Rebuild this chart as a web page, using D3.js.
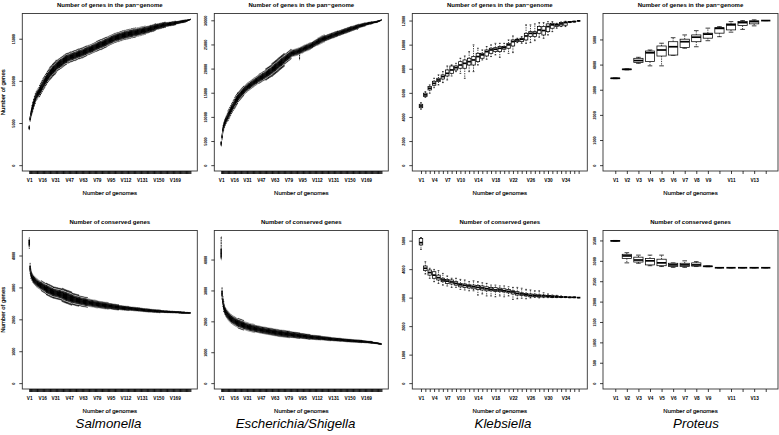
<!DOCTYPE html>
<html><head><meta charset="utf-8">
<script src="https://cdn.jsdelivr.net/npm/d3@7"></script>
<style>body{margin:0;background:#fff}svg{display:block}text{font-family:"Liberation Sans",Arial,Helvetica,sans-serif;fill:#000}</style>
</head><body>
<script>
// ---- DATA: five-number summaries [lower whisker, Q1, median, Q3, upper whisker] per number of genomes ----
const salPan=[[4200,4350,4450,4550,4700],[5200,5400,5500,5600,5800],[5600,5900,6050,6200,6500],[5950,6300,6500,6700,7050],[6300,6700,6900,7100,7500],[6650,7050,7250,7450,7850],[7000,7400,7600,7800,8200],[7300,7700,7900,8100,8500],[7650,8000,8200,8400,8750],[7800,8150,8350,8550,8900],
[7950,8300,8500,8700,9050],[8100,8450,8650,8850,9200],[8100,8550,8800,9050,9500],[8300,8750,9000,9250,9700],[8500,8950,9200,9450,9900],[8700,9150,9400,9650,10100],[8900,9350,9600,9850,10300],[9050,9500,9750,10000,10450],[9200,9650,9900,10150,10600],[9400,9850,10100,10350,10800],
[9550,10000,10250,10500,10950],[9750,10200,10450,10700,11150],[9900,10350,10600,10850,11300],[10050,10500,10750,11000,11450],[10150,10650,10900,11150,11650],[10250,10750,11000,11250,11750],[10350,10850,11100,11350,11850],[10500,11000,11250,11500,12000],[10600,11100,11350,11600,12100],[10700,11200,11450,11700,12200],
[10800,11300,11550,11800,12300],[10950,11450,11700,11950,12450],[11150,11550,11800,12050,12450],[11200,11600,11850,12100,12500],[11300,11700,11950,12200,12600],[11350,11750,12000,12250,12650],[11450,11850,12100,12350,12750],[11500,11900,12150,12400,12800],[11600,12000,12250,12500,12900],[11650,12050,12300,12550,12950],
[11750,12150,12400,12650,13050],[11800,12200,12450,12700,13100],[11900,12300,12550,12800,13200],[11950,12350,12600,12850,13250],[12100,12500,12700,12900,13300],[12100,12500,12700,12900,13300],[12150,12550,12750,12950,13350],[12200,12600,12800,13000,13400],[12250,12650,12850,13050,13450],[12250,12650,12850,13050,13450],
[12300,12700,12900,13100,13500],[12350,12750,12950,13150,13550],[12400,12800,13000,13200,13600],[12400,12800,13000,13200,13600],[12450,12850,13050,13250,13650],[12500,12900,13100,13300,13700],[12550,12950,13150,13350,13750],[12600,13000,13200,13400,13800],[12600,13000,13200,13400,13800],[12650,13050,13250,13450,13850],
[12700,13100,13300,13500,13900],[12700,13100,13300,13500,13900],[12750,13150,13350,13550,13950],[12800,13200,13400,13600,14000],[12850,13250,13450,13650,14050],[12900,13300,13500,13700,14100],[12950,13350,13550,13750,14150],[13050,13400,13600,13800,14150],[13100,13450,13650,13850,14200],[13150,13500,13700,13900,14250],
[13150,13500,13700,13900,14250],[13200,13550,13750,13950,14300],[13250,13600,13800,14000,14350],[13300,13650,13850,14050,14400],[13350,13700,13900,14100,14450],[13400,13750,13950,14150,14500],[13450,13800,14000,14200,14550],[13500,13850,14050,14250,14600],[13500,13900,14100,14300,14700],[13550,13950,14150,14350,14750],
[13600,14000,14200,14400,14800],[13650,14050,14250,14450,14850],[13700,14100,14300,14500,14900],[13700,14100,14300,14500,14900],[13750,14150,14350,14550,14950],[13800,14200,14400,14600,15000],[13850,14250,14450,14650,15050],[13900,14300,14500,14700,15100],[13950,14350,14550,14750,15150],[14000,14400,14600,14800,15200],
[14100,14450,14650,14850,15200],[14150,14500,14700,14900,15250],[14200,14550,14750,14950,15300],[14250,14600,14800,15000,15350],[14300,14650,14850,15050,15400],[14350,14700,14900,15100,15450],[14400,14750,14950,15150,15500],[14450,14800,15000,15200,15550],[14500,14850,15050,15250,15600],[14550,14900,15100,15300,15650],
[14550,14900,15100,15300,15650],[14600,14950,15150,15350,15700],[14650,15000,15200,15400,15750],[14650,15000,15200,15400,15750],[14700,15050,15250,15450,15800],[14750,15100,15300,15500,15850],[14750,15100,15300,15500,15850],[14800,15150,15350,15550,15900],[14850,15200,15400,15600,15950],[14850,15200,15400,15600,15950],
[14900,15250,15450,15650,16000],[14900,15250,15450,15650,16000],[14950,15300,15500,15700,16050],[14950,15300,15500,15700,16050],[15000,15350,15550,15750,16100],[15000,15350,15550,15750,16100],[15050,15400,15600,15800,16150],[15050,15400,15600,15800,16150],[15100,15450,15650,15850,16200],[15100,15450,15650,15850,16200],
[15150,15500,15700,15900,16250],[15150,15500,15700,15900,16250],[15150,15500,15700,15900,16250],[15200,15550,15750,15950,16300],[15250,15570,15750,15930,16250],[15300,15620,15800,15980,16300],[15300,15620,15800,15980,16300],[15350,15670,15850,16030,16350],[15350,15670,15850,16030,16350],[15400,15720,15900,16080,16400],
[15400,15720,15900,16080,16400],[15450,15770,15950,16130,16450],[15450,15770,15950,16130,16450],[15500,15820,16000,16180,16500],[15500,15820,16000,16180,16500],[15650,15900,16050,16200,16450],[15650,15900,16050,16200,16450],[15700,15950,16100,16250,16500],[15700,15950,16100,16250,16500],[15750,16000,16150,16300,16550],
[15800,16050,16200,16350,16600],[15800,16050,16200,16350,16600],[15850,16100,16250,16400,16650],[15850,16100,16250,16400,16650],[15900,16150,16300,16450,16700],[15950,16200,16350,16500,16750],[16000,16250,16400,16550,16800],[16100,16300,16420,16540,16740],[16130,16330,16450,16570,16770],[16130,16330,16450,16570,16770],
[16180,16380,16500,16620,16820],[16180,16380,16500,16620,16820],[16230,16430,16550,16670,16870],[16230,16430,16550,16670,16870],[16280,16480,16600,16720,16920],[16280,16480,16600,16720,16920],[16330,16530,16650,16770,16970],[16330,16530,16650,16770,16970],[16450,16590,16680,16770,16910],[16470,16610,16700,16790,16930],
[16470,16610,16700,16790,16930],[16490,16630,16720,16810,16950],[16520,16660,16750,16840,16980],[16520,16660,16750,16840,16980],[16540,16680,16770,16860,17000],[16570,16710,16800,16890,17030],[16570,16710,16800,16890,17030],[16590,16730,16820,16910,17050],[16620,16760,16850,16940,17080],[16640,16780,16870,16960,17100],
[16750,16840,16900,16960,17050],[16770,16860,16920,16980,17070],[16790,16880,16940,17000,17090],[16810,16900,16960,17020,17110],[16830,16920,16980,17040,17130],[16850,16940,17000,17060,17150],[16870,16960,17020,17080,17170],[16890,16980,17040,17100,17190],[16910,17000,17060,17120,17210],[16930,17020,17080,17140,17230],
[16950,17040,17100,17160,17250],[17010,17080,17120,17160,17230],[17060,17115,17150,17185,17240],[17110,17155,17180,17205,17250],[17160,17190,17210,17230,17260],[17220,17240,17250,17260,17280],[17300,17300,17300,17300,17300]];

const ecoPan=[[3950,4300,4500,4700,5000],[5200,5700,5900,6100,6600],[6450,7050,7300,7550,8150],[7200,7800,8050,8300,8900],[7800,8400,8650,8900,9500],[8250,8850,9100,9350,9950],[8650,9250,9500,9750,10350],[9000,9600,9850,10100,10700],[9200,9950,10250,10550,11300],[9550,10300,10600,10900,11650],
[9900,10650,10950,11250,12000],[10250,11000,11300,11600,12350],[10650,11400,11700,12000,12750],[10950,11700,12000,12300,13050],[11300,12050,12350,12650,13400],[11600,12350,12650,12950,13700],[11800,12600,12950,13300,14100],[12100,12900,13250,13600,14400],[12400,13200,13550,13900,14700],[12700,13500,13850,14200,15000],
[13150,13850,14150,14450,15150],[13350,14050,14350,14650,15350],[13550,14250,14550,14850,15550],[13750,14450,14750,15050,15750],[13950,14650,14950,15250,15950],[14150,14850,15150,15450,16150],[14350,15050,15350,15650,16350],[14700,15300,15550,15800,16400],[14900,15500,15750,16000,16600],[15050,15650,15900,16150,16750],
[15200,15800,16050,16300,16900],[15350,15950,16200,16450,17050],[15500,16100,16350,16600,17200],[15600,16200,16450,16700,17300],[15750,16350,16600,16850,17450],[15900,16500,16750,17000,17600],[16050,16650,16900,17150,17750],[16150,16750,17000,17250,17850],[16300,16900,17150,17400,18000],[16400,17000,17250,17500,18100],
[16550,17150,17400,17650,18250],[16650,17250,17500,17750,18350],[16800,17400,17650,17900,18500],[16950,17550,17800,18050,18650],[16950,17600,17900,18200,18850],[17050,17700,18000,18300,18950],[17150,17800,18100,18400,19050],[17250,17900,18200,18500,19150],[17400,18050,18350,18650,19300],[17500,18150,18450,18750,19400],
[17600,18250,18550,18850,19500],[17700,18350,18650,18950,19600],[17600,18450,18800,19150,20000],[17700,18550,18900,19250,20100],[17850,18700,19050,19400,20250],[17950,18800,19150,19500,20350],[18100,18950,19300,19650,20500],[18200,19050,19400,19750,20600],[18350,19200,19550,19900,20750],[18350,19300,19700,20100,21050],
[18500,19450,19850,20250,21200],[18650,19600,20000,20400,21350],[18800,19750,20150,20550,21500],[18950,19900,20300,20700,21650],[19100,20050,20450,20850,21800],[19250,20200,20600,21000,21950],[19400,20350,20750,21150,22100],[19550,20500,20900,21300,22250],[19700,20650,21050,21450,22400],[19850,20800,21200,21600,22550],
[20000,20950,21350,21750,22700],[20150,21100,21500,21900,22850],[20300,21250,21650,22050,23000],[20450,21400,21800,22200,23150],[20950,21650,21950,22250,22950],[21100,21800,22100,22400,23100],[21250,21950,22250,22550,23250],[21400,22100,22400,22700,23400],[21550,22250,22550,22850,23550],[21700,22400,22700,23000,23700],
[21850,22550,22850,23150,23850],[22000,22700,23000,23300,24000],[22450,22950,23150,23350,23850],[22500,23000,23200,23400,23900],[22550,23050,23250,23450,23950],[22600,23100,23300,23500,24000],[22650,23150,23350,23550,24050],[22700,23200,23400,23600,24100],[22750,23250,23450,23650,24150],[22800,23300,23500,23700,24200],
[22900,23400,23600,23800,24300],[21800,23450,23650,23850,24350],[23050,23550,23750,23950,24450],[23150,23650,23850,24050,24550],[23200,23700,23900,24100,24600],[23300,23800,24000,24200,24700],[23400,23900,24100,24300,24800],[23500,24000,24200,24400,24900],[23550,24050,24250,24450,24950],[23650,24150,24350,24550,25050],
[23700,24200,24400,24600,25100],[23800,24300,24500,24700,25200],[23850,24350,24550,24750,25250],[23950,24450,24650,24850,25350],[24000,24500,24700,24900,25400],[24200,24620,24800,24980,25400],[24300,24720,24900,25080,25500],[24450,24870,25050,25230,25650],[24550,24970,25150,25330,25750],[24650,25070,25250,25430,25850],
[24750,25170,25350,25530,25950],[24850,25270,25450,25630,26050],[24800,25330,25550,25770,26300],[24900,25430,25650,25870,26400],[25000,25530,25750,25970,26500],[25100,25630,25850,26070,26600],[25200,25730,25950,26170,26700],[25300,25830,26050,26270,26800],[25350,25880,26100,26320,26850],[25450,25980,26200,26420,26950],
[25500,26030,26250,26470,27000],[25750,26140,26300,26460,26850],[25800,26190,26350,26510,26900],[25900,26290,26450,26610,27000],[25950,26340,26500,26660,27050],[26000,26390,26550,26710,27100],[26100,26490,26650,26810,27200],[26150,26540,26700,26860,27250],[26250,26640,26800,26960,27350],[26300,26690,26850,27010,27400],
[26350,26740,26900,27060,27450],[26400,26790,26950,27110,27500],[26500,26890,27050,27210,27600],[26550,26940,27100,27260,27650],[26600,26990,27150,27310,27700],[26700,27090,27250,27410,27800],[26800,27150,27300,27450,27800],[26850,27200,27350,27500,27850],[26900,27250,27400,27550,27900],[26950,27300,27450,27600,27950],
[27050,27400,27550,27700,28050],[27100,27450,27600,27750,28100],[27150,27500,27650,27800,28150],[27250,27600,27750,27900,28250],[27300,27650,27800,27950,28300],[27350,27700,27850,28000,28350],[27400,27750,27900,28050,28400],[27500,27850,28000,28150,28500],[27550,27900,28050,28200,28550],[27600,27950,28100,28250,28600],
[27700,28050,28200,28350,28700],[27750,28100,28250,28400,28750],[27850,28170,28300,28430,28750],[27900,28220,28350,28480,28800],[27950,28270,28400,28530,28850],[28000,28320,28450,28580,28900],[28100,28420,28550,28680,29000],[28150,28470,28600,28730,29050],[28100,28520,28650,28780,29100],[28300,28620,28750,28880,29200],
[28450,28700,28800,28900,29150],[28500,28750,28850,28950,29200],[28550,28800,28900,29000,29250],[28600,28850,28950,29050,29300],[28650,28900,29000,29100,29350],[28700,28950,29050,29150,29400],[28750,29000,29100,29200,29450],[28800,29050,29150,29250,29500],[28950,29125,29200,29275,29450],[29000,29175,29250,29325,29500],
[29050,29225,29300,29375,29550],[29100,29275,29350,29425,29600],[29150,29325,29400,29475,29650],[29150,29325,29400,29475,29650],[29200,29375,29450,29525,29700],[29250,29425,29500,29575,29750],[29380,29485,29530,29575,29680],[29410,29515,29560,29605,29710],[29450,29555,29600,29645,29750],[29490,29595,29640,29685,29790],
[29530,29635,29680,29725,29830],[29570,29675,29720,29765,29870],[29630,29735,29780,29825,29930],[29760,29815,29840,29865,29920],[29840,29880,29900,29920,29960],[29940,29965,29980,29995,30020],[30100,30100,30100,30100,30100]];

const klePan=[[4640,4770,4910,5050,5190],[5630,5690,5830,5970,6100],[5970,6240,6380,6520,6660],[6430,6630,6790,6960,7210],[6660,6930,7070,7210,7490],[6850,7150,7350,7490,7760],[7070,7400,7620,7900,8230],[7400,7620,7900,8230,8320],[7760,7900,8090,8230,8450],[7620,8040,8310,8590,8870],
[7210,8040,8450,8730,9060],[7760,8310,8590,8870,9420],[7760,8310,8730,9010,9980],[8310,8590,9010,9280,9700],[8730,8870,9150,9280,9560],[8790,9060,9420,9560,9840],[9010,9280,9560,9700,9980],[9150,9420,9620,9750,10110],[8950,9420,9700,9840,10110],[9420,9620,9750,9840,10110],
[9280,9700,9980,10110,10390],[9340,9890,10250,10390,10720],[10170,10250,10390,10450,10530],[10110,10250,10450,10530,10670],[10110,10390,10720,10940,11640],[10170,10670,10940,11080,11640],[10330,10670,10940,11080,11720],[10610,10940,11220,11500,11830],[10530,10800,11170,11500,11830],[10800,11080,11500,11720,11910],
[11080,11360,11640,11770,11910],[11360,11500,11640,11720,11770],[11500,11550,11720,11830,11880],[11500,11610,11830,11880,11940],[11830,11860,11880,11910,11910],[11880,11900,11910,11940,11940],[11970,11970,11970,11970,11970]];

const proPan=[[3440,3450,3455,3460,3470],[3790,3800,3810,3820,3830],[4050,4080,4160,4250,4290],[3950,4120,4470,4540,4580],[3950,4340,4580,4740,4850],[4370,4380,4710,4910,5070],[4650,4680,4910,5010,5180],[4710,4910,5090,5180,5350],[4950,5050,5210,5250,5450],[5110,5250,5440,5470,5510],
[5290,5380,5580,5620,5710],[5400,5550,5670,5710,5750],[5540,5620,5710,5740,5780],[5750,5750,5750,5750,5750]];

const salCore=[[4220,4330,4400,4470,4560],[3440,3545,3600,3655,3760],[3280,3380,3430,3480,3580],[3220,3305,3350,3395,3480],[3160,3245,3290,3335,3420],[3120,3205,3250,3295,3380],[3090,3175,3220,3265,3350],[3060,3145,3190,3235,3320],[3030,3115,3160,3205,3290],[3010,3095,3140,3185,3270],
[2990,3075,3120,3165,3250],[2970,3055,3100,3145,3230],[2950,3035,3080,3125,3210],[2935,3020,3065,3110,3195],[2890,2995,3050,3105,3210],[2870,2975,3030,3085,3190],[2855,2960,3015,3070,3175],[2840,2945,3000,3055,3160],[2825,2930,2985,3040,3145],[2805,2910,2965,3020,3125],
[2765,2885,2950,3015,3135],[2750,2870,2935,3000,3120],[2735,2855,2920,2985,3105],[2725,2845,2910,2975,3095],[2710,2830,2895,2960,3080],[2695,2815,2880,2945,3065],[2685,2805,2870,2935,3055],[2670,2790,2855,2920,3040],[2660,2780,2840,2900,3020],[2655,2775,2835,2895,3015],
[2650,2770,2830,2890,3010],[2640,2760,2820,2880,3000],[2635,2755,2815,2875,2995],[2630,2750,2810,2870,2990],[2620,2740,2800,2860,2980],[2615,2735,2795,2855,2975],[2610,2730,2790,2850,2970],[2595,2715,2775,2835,2955],[2555,2690,2765,2840,2975],[2545,2680,2755,2830,2965],
[2535,2670,2745,2820,2955],[2520,2655,2730,2805,2940],[2510,2645,2720,2795,2930],[2500,2635,2710,2785,2920],[2490,2625,2700,2775,2910],[2480,2615,2690,2765,2900],[2470,2605,2680,2755,2890],[2460,2595,2670,2745,2880],[2450,2585,2660,2735,2870],[2440,2575,2650,2725,2860],
[2460,2580,2640,2700,2820],[2450,2570,2630,2690,2810],[2445,2565,2625,2685,2805],[2435,2555,2615,2675,2795],[2430,2550,2610,2670,2790],[2420,2540,2600,2660,2780],[2415,2535,2595,2655,2775],[2410,2530,2590,2650,2770],[2425,2525,2580,2635,2735],[2420,2520,2575,2630,2730],
[2410,2510,2565,2620,2720],[2405,2505,2560,2615,2715],[2400,2500,2555,2610,2710],[2395,2495,2550,2605,2705],[2390,2490,2545,2600,2700],[2385,2485,2540,2595,2695],[2380,2480,2535,2590,2690],[2375,2475,2530,2585,2685],[2410,2485,2525,2565,2640],[2405,2480,2520,2560,2635],
[2400,2475,2515,2555,2630],[2395,2470,2510,2550,2625],[2390,2465,2505,2545,2620],[2385,2460,2500,2540,2615],[2380,2455,2495,2535,2610],[2375,2450,2490,2530,2605],[2370,2445,2485,2525,2600],[2365,2440,2480,2520,2595],[2360,2435,2475,2515,2590],[2355,2430,2470,2510,2585],
[2360,2430,2465,2500,2570],[2355,2425,2460,2495,2565],[2350,2420,2455,2490,2560],[2345,2415,2450,2485,2555],[2345,2415,2450,2485,2555],[2340,2410,2445,2480,2550],[2335,2405,2440,2475,2545],[2330,2400,2435,2470,2540],[2325,2395,2430,2465,2535],[2325,2395,2430,2465,2535],
[2320,2390,2425,2460,2530],[2315,2385,2420,2455,2525],[2330,2385,2415,2445,2500],[2325,2380,2410,2440,2495],[2325,2380,2410,2440,2495],[2320,2375,2405,2435,2490],[2315,2370,2400,2430,2485],[2310,2365,2395,2425,2480],[2305,2360,2390,2420,2475],[2305,2360,2390,2420,2475],
[2300,2355,2385,2415,2470],[2295,2350,2380,2410,2465],[2290,2345,2375,2405,2460],[2290,2345,2375,2405,2460],[2305,2345,2370,2395,2435],[2300,2340,2365,2390,2430],[2300,2340,2365,2390,2430],[2295,2335,2360,2385,2425],[2290,2330,2355,2380,2420],[2290,2330,2355,2380,2420],
[2285,2325,2350,2375,2415],[2285,2325,2350,2375,2415],[2280,2320,2345,2370,2410],[2280,2320,2345,2370,2410],[2275,2315,2340,2365,2405],[2275,2315,2340,2365,2405],[2280,2315,2335,2355,2390],[2280,2315,2335,2355,2390],[2275,2310,2330,2350,2385],[2275,2310,2330,2350,2385],
[2270,2305,2325,2345,2380],[2270,2305,2325,2345,2380],[2265,2300,2320,2340,2375],[2265,2300,2320,2340,2375],[2260,2295,2315,2335,2370],[2260,2295,2315,2335,2370],[2255,2290,2310,2330,2365],[2255,2290,2310,2330,2365],[2255,2287,2305,2323,2355],[2250,2282,2300,2318,2350],
[2250,2282,2300,2318,2350],[2245,2277,2295,2313,2345],[2240,2272,2290,2308,2340],[2240,2272,2290,2308,2340],[2235,2267,2285,2303,2335],[2235,2267,2285,2303,2335],[2230,2262,2280,2298,2330],[2230,2262,2280,2298,2330],[2225,2257,2275,2293,2325],[2225,2257,2275,2293,2325],
[2225,2255,2270,2285,2315],[2225,2255,2270,2285,2315],[2220,2250,2265,2280,2310],[2220,2250,2265,2280,2310],[2215,2245,2260,2275,2305],[2215,2245,2260,2275,2305],[2215,2245,2260,2275,2305],[2210,2240,2255,2270,2300],[2210,2240,2255,2270,2300],[2210,2240,2255,2270,2300],
[2205,2235,2250,2265,2295],[2205,2235,2250,2265,2295],[2220,2240,2250,2260,2280],[2215,2235,2245,2255,2275],[2215,2235,2245,2255,2275],[2215,2235,2245,2255,2275],[2210,2230,2240,2250,2270],[2210,2230,2240,2250,2270],[2210,2230,2240,2250,2270],[2210,2230,2240,2250,2270],
[2205,2225,2235,2245,2265],[2205,2225,2235,2245,2265],[2205,2225,2235,2245,2265],[2200,2220,2230,2240,2260],[2200,2220,2230,2240,2260],[2200,2220,2230,2240,2260],[2200,2217,2225,2233,2250],[2200,2217,2225,2233,2250],[2200,2217,2225,2233,2250],[2195,2212,2220,2228,2245],
[2195,2212,2220,2228,2245],[2195,2212,2220,2228,2245],[2195,2212,2220,2228,2245],[2190,2207,2215,2223,2240],[2190,2207,2215,2223,2240],[2190,2207,2215,2223,2240],[2185,2202,2210,2218,2235],[2185,2202,2210,2218,2235],[2185,2202,2210,2218,2235],[2185,2202,2210,2218,2235],
[2190,2200,2205,2210,2220],[2190,2200,2205,2210,2220],[2190,2200,2205,2210,2220],[2190,2200,2205,2210,2220],[2185,2195,2200,2205,2215],[2185,2195,2200,2205,2215],[2200,2200,2200,2200,2200]];

const ecoCore=[[3990,4080,4200,4330,4740],[2710,2835,2900,2965,3090],[2480,2590,2650,2710,2820],[2310,2420,2480,2540,2650],[2230,2320,2370,2420,2510],[2170,2260,2310,2360,2450],[2120,2210,2260,2310,2400],[2080,2170,2220,2270,2360],[2045,2135,2185,2235,2325],[2015,2105,2155,2205,2295],
[1985,2075,2125,2175,2265],[1955,2045,2095,2145,2235],[1930,2020,2070,2120,2210],[1910,2000,2050,2100,2190],[1890,1980,2030,2080,2170],[1875,1965,2015,2065,2155],[1860,1950,2000,2050,2140],[1845,1935,1985,2035,2125],[1825,1915,1965,2015,2105],[1810,1900,1950,2000,2090],
[1775,1880,1935,1990,2095],[1765,1870,1925,1980,2085],[1755,1860,1915,1970,2075],[1745,1850,1905,1960,2065],[1735,1840,1895,1950,2055],[1725,1830,1885,1940,2045],[1715,1820,1875,1930,2035],[1730,1815,1860,1905,1990],[1720,1805,1850,1895,1980],[1710,1795,1840,1885,1970],
[1700,1785,1830,1875,1960],[1695,1780,1825,1870,1955],[1685,1770,1815,1860,1945],[1675,1760,1805,1850,1935],[1670,1755,1800,1845,1930],[1660,1745,1790,1835,1920],[1655,1740,1785,1830,1915],[1650,1735,1780,1825,1910],[1645,1730,1775,1820,1905],[1635,1720,1765,1810,1895],
[1650,1722,1760,1798,1870],[1645,1717,1755,1793,1865],[1640,1712,1750,1788,1860],[1635,1707,1745,1783,1855],[1630,1702,1740,1778,1850],[1620,1692,1730,1768,1840],[1615,1687,1725,1763,1835],[1610,1682,1720,1758,1830],[1605,1677,1715,1753,1825],[1600,1672,1710,1748,1820],
[1595,1667,1705,1743,1815],[1590,1662,1700,1738,1810],[1585,1657,1695,1733,1805],[1580,1652,1690,1728,1800],[1575,1647,1685,1723,1795],[1570,1642,1680,1718,1790],[1565,1637,1675,1713,1785],[1560,1632,1670,1708,1780],[1555,1627,1665,1703,1775],[1550,1622,1660,1698,1770],
[1545,1617,1655,1693,1765],[1540,1612,1650,1688,1760],[1535,1607,1645,1683,1755],[1530,1602,1640,1678,1750],[1525,1597,1635,1673,1745],[1520,1592,1630,1668,1740],[1515,1587,1625,1663,1735],[1510,1582,1620,1658,1730],[1505,1577,1615,1653,1725],[1502,1574,1612,1650,1722],
[1500,1572,1610,1648,1720],[1495,1567,1605,1643,1715],[1492,1564,1602,1640,1712],[1488,1560,1598,1636,1708],[1485,1557,1595,1633,1705],[1482,1554,1592,1630,1702],[1478,1550,1588,1626,1698],[1475,1547,1585,1623,1695],[1472,1544,1582,1620,1692],[1468,1540,1578,1616,1688],
[1483,1543,1575,1607,1667],[1480,1540,1572,1604,1664],[1476,1536,1568,1600,1660],[1473,1533,1565,1597,1657],[1470,1530,1562,1594,1654],[1466,1526,1558,1590,1650],[1463,1523,1555,1587,1647],[1458,1518,1550,1582,1642],[1455,1515,1547,1579,1639],[1451,1511,1543,1575,1635],
[1448,1508,1540,1572,1632],[1445,1505,1537,1569,1629],[1453,1505,1533,1561,1613],[1450,1502,1530,1558,1610],[1447,1499,1527,1555,1607],[1443,1495,1523,1551,1603],[1440,1492,1520,1548,1600],[1436,1488,1516,1544,1596],[1432,1484,1512,1540,1592],[1428,1480,1508,1536,1588],
[1425,1477,1505,1533,1585],[1421,1473,1501,1529,1581],[1418,1470,1498,1526,1578],[1414,1466,1494,1522,1574],[1422,1466,1490,1514,1558],[1419,1463,1487,1511,1555],[1417,1461,1485,1509,1553],[1414,1458,1482,1506,1550],[1412,1456,1480,1504,1548],[1409,1453,1477,1501,1545],
[1407,1451,1475,1499,1543],[1404,1448,1472,1496,1540],[1402,1446,1470,1494,1538],[1399,1443,1467,1491,1535],[1397,1441,1465,1489,1533],[1394,1438,1462,1486,1530],[1402,1440,1460,1480,1518],[1399,1437,1457,1477,1515],[1396,1434,1454,1474,1512],[1393,1431,1451,1471,1509],
[1390,1428,1448,1468,1506],[1387,1425,1445,1465,1503],[1384,1422,1442,1462,1500],[1381,1419,1439,1459,1497],[1378,1416,1436,1456,1494],[1375,1413,1433,1453,1491],[1372,1410,1430,1450,1488],[1369,1407,1427,1447,1485],[1375,1407,1425,1443,1475],[1373,1405,1423,1441,1473],
[1370,1402,1420,1438,1470],[1368,1400,1418,1436,1468],[1366,1398,1416,1434,1466],[1364,1396,1414,1432,1464],[1361,1393,1411,1429,1461],[1359,1391,1409,1427,1459],[1357,1389,1407,1425,1457],[1355,1387,1405,1423,1455],[1352,1384,1402,1420,1452],[1350,1382,1400,1418,1450],
[1353,1382,1398,1414,1443],[1350,1379,1395,1411,1440],[1348,1377,1393,1409,1438],[1345,1374,1390,1406,1435],[1343,1372,1388,1404,1433],[1340,1369,1385,1401,1430],[1338,1367,1383,1399,1428],[1335,1364,1380,1396,1425],[1333,1362,1378,1394,1423],[1330,1359,1375,1391,1420],
[1328,1357,1373,1389,1418],[1326,1355,1371,1387,1416],[1327,1354,1369,1384,1411],[1326,1353,1368,1383,1410],[1324,1351,1366,1381,1408],[1322,1349,1364,1379,1406],[1320,1347,1362,1377,1404],[1319,1346,1361,1376,1403],[1317,1344,1359,1374,1401],[1315,1342,1357,1372,1399],
[1313,1340,1355,1370,1397],[1312,1339,1354,1369,1396],[1310,1337,1352,1367,1394],[1307,1334,1349,1364,1391],[1314,1335,1347,1359,1380],[1311,1332,1344,1356,1377],[1308,1329,1341,1353,1374],[1306,1327,1339,1351,1372],[1303,1324,1336,1348,1369],[1300,1321,1333,1345,1366],
[1298,1319,1331,1343,1364],[1295,1316,1328,1340,1361],[1292,1313,1325,1337,1358],[1290,1311,1323,1335,1356],[1287,1308,1320,1332,1353],[1283,1304,1316,1328,1349],[1292,1305,1312,1319,1332],[1287,1300,1307,1314,1327],[1282,1295,1302,1309,1322],[1278,1291,1298,1305,1318],
[1274,1287,1294,1301,1314],[1270,1283,1290,1297,1310],[1265,1278,1285,1292,1305],[1260,1273,1280,1287,1300],[1255,1268,1275,1282,1295],[1250,1263,1270,1277,1290],[1265,1265,1265,1265,1265]];

const kleCore=[[4690,4850,4930,5080,5110],[3830,3950,4030,4110,4260],[3680,3790,3880,3970,4030],[3560,3680,3790,3910,3990],[3500,3620,3700,3790,3950],[3440,3560,3620,3680,3850],[3410,3500,3580,3640,3760],[3360,3480,3550,3620,3680],[3360,3440,3500,3560,3680],[3290,3380,3450,3500,3640],
[3270,3360,3430,3480,3620],[3240,3340,3410,3450,3560],[3240,3310,3380,3440,3590],[3090,3290,3360,3430,3560],[3130,3270,3340,3410,3520],[3060,3240,3310,3380,3500],[3060,3240,3290,3360,3440],[3030,3220,3270,3350,3440],[3060,3210,3270,3330,3410],[3030,3200,3240,3310,3410],
[3060,3170,3220,3290,3380],[2940,3130,3200,3240,3360],[2960,3090,3150,3210,3360],[2980,3080,3130,3170,3330],[2960,3060,3100,3150,3290],[2990,3030,3080,3130,3270],[3010,3030,3070,3120,3240],[2990,3020,3060,3100,3240],[3000,3020,3060,3090,3170],[3000,3020,3050,3080,3130],
[3000,3010,3030,3080,3090],[3000,3010,3030,3060,3080],[3000,3010,3020,3040,3060],[3000,3010,3020,3030,3040],[3000,3000,3010,3020,3020],[3000,3000,3010,3020,3020],[3000,3000,3000,3000,3000]];

const proCore=[[3480,3485,3490,3495,3500],[2950,3060,3120,3160,3200],[2940,2970,3020,3090,3140],[2880,2900,3000,3060,3140],[2860,2880,2950,3040,3140],[2840,2860,2900,2940,2950],[2840,2860,2900,2940,3000],[2860,2870,2900,2950,2980],[2855,2860,2865,2870,2875],[2830,2830,2830,2830,2830],
[2830,2830,2830,2830,2830],[2830,2830,2830,2830,2830],[2830,2830,2830,2830,2830],[2830,2830,2830,2830,2830]];

// y-axis limits (ylim upper bound) and tick values
const yMaxes=[17300,30200,12100,5800,4600,4750,5150,3600];
const yTickSets=[[0,5000,10000,15000],[0,5000,10000,15000,20000,25000,30000],[0,2000,4000,6000,8000,10000,12000],[0,1000,2000,3000,4000,5000],
 [0,1000,2000,3000,4000],[0,1000,2000,3000,4000],[0,1000,2000,3000,4000,5000],[0,500,1000,1500,2000,2500,3000,3500]];
// x tick labels that R kept
const denseLabels=["V1","V16","V31","V47","V63","V79","V95","V112","V131","V150","V169"];
const kleLabels=["V1","V4","V7","V10","V14","V18","V22","V26","V30","V34"];
const proLabels=["V1","V2","V3","V4","V5","V6","V7","V8","V9","V11","V13"];
const titles=["Number of genes in the pan\u2212genome","Number of conserved genes"];
const species=["Salmonella","Escherichia/Shigella","Klebsiella","Proteus"];

// ---- LAYOUT ----
const panelData=[salPan,ecoPan,klePan,proPan,salCore,ecoCore,kleCore,proCore];
const panelLabels=[denseLabels,denseLabels,kleLabels,proLabels,denseLabels,denseLabels,kleLabels,proLabels];
const colL=[22.3,214.3,412.3,603], colW=[175,174,175,175];
const rowT=[13.5,230.5], rowB=[171,389];
const speciesX=[108.5,295.5,503,696];

const svg=d3.select("body").append("svg").attr("width",779).attr("height",435);
svg.append("rect").attr("width",779).attr("height",435).attr("fill","#fff");

panelData.forEach((data,k)=>{
  const r=k<4?0:1, c=k%4;
  const L=colL[c], R=L+colW[c], T=rowT[r], B=rowB[r];
  const n=data.length, M=yMaxes[k];
  const cats=data.map((d,i)=>"V"+(i+1));
  const x=d3.scaleLinear().domain([0.5-0.04*n,n+0.5+0.04*n]).range([L,R]);
  const y=d3.scaleLinear().domain([-0.04*M,1.04*M]).range([B,T]);
  const unit=x(2)-x(1), bw=0.8*unit, sw=0.4*unit;
  const dense=unit<2;
  const lw=dense?0.9:0.75;
  const dash=dense?"2,0.6":"1.3,1.1";
  const g=svg.append("g");
  const bx=g.selectAll("g.bx").data(data).join("g").attr("class","bx");
  const cx=(d,i)=>x(i+1);
  // whiskers (dashed)
  bx.append("line").attr("x1",cx).attr("x2",cx).attr("y1",d=>y(d[3])).attr("y2",d=>y(d[4]))
    .attr("stroke","#000").attr("stroke-width",lw).attr("stroke-dasharray",dash);
  bx.append("line").attr("x1",cx).attr("x2",cx).attr("y1",d=>y(d[1])).attr("y2",d=>y(d[0]))
    .attr("stroke","#000").attr("stroke-width",lw).attr("stroke-dasharray",dash);
  // staples
  [4,0].forEach(j=>{
    bx.append("line").attr("x1",(d,i)=>cx(d,i)-sw/2).attr("x2",(d,i)=>cx(d,i)+sw/2)
      .attr("y1",d=>y(d[j])).attr("y2",d=>y(d[j])).attr("stroke","#000").attr("stroke-width",lw);
  });
  // box
  bx.append("rect").attr("x",(d,i)=>cx(d,i)-bw/2).attr("y",d=>y(d[3])).attr("width",bw)
    .attr("height",d=>Math.max(0,y(d[1])-y(d[3]))).attr("fill","#fff").attr("stroke","#000").attr("stroke-width",lw);
  // median
  bx.append("line").attr("x1",(d,i)=>cx(d,i)-bw/2).attr("x2",(d,i)=>cx(d,i)+bw/2)
    .attr("y1",d=>y(d[2])).attr("y2",d=>y(d[2])).attr("stroke","#000").attr("stroke-width",dense?1.2:1.7);
  // frame
  g.append("rect").attr("x",L).attr("y",T).attr("width",R-L).attr("height",B-T)
    .attr("fill","none").attr("stroke","#333").attr("stroke-width",0.9);
  // x axis
  const keep=new Set(panelLabels[k]);
  const xa=g.append("g").attr("transform",`translate(0,${B})`)
    .call(d3.axisBottom(x).tickValues(d3.range(1,n+1)).tickSize(3).tickFormat(i=>keep.has(cats[i-1])?cats[i-1]:""));
  xa.select(".domain").remove();
  xa.selectAll(".tick line").attr("stroke","#000").attr("stroke-width",dense?0.9:0.75);
  xa.selectAll("text").attr("y",11).attr("dy",null).style("font-size","4.7px").style("font-weight","bold");
  // y axis
  const ya=g.append("g").attr("transform",`translate(${L},0)`)
    .call(d3.axisLeft(y).tickValues(yTickSets[k]).tickSize(3).tickFormat(d3.format("d")));
  ya.select(".domain").remove();
  ya.selectAll(".tick line").attr("stroke","#000").attr("stroke-width",0.75);
  ya.selectAll("text").attr("x",null).attr("dy",null).attr("transform","translate(-7.5,0) rotate(-90)")
    .attr("text-anchor","middle").style("font-size","3.7px").style("font-weight","bold");
  // titles / labels
  g.append("text").attr("x",(L+R)/2).attr("y",T-7).attr("text-anchor","middle")
    .style("font-weight","bold").style("font-size","6px").text(titles[r]);
  g.append("text").attr("x",(L+R)/2).attr("y",B+23.5).attr("text-anchor","middle")
    .style("font-size","6px").style("stroke","#000").style("stroke-width","0.15").text("Number of genomes");
  if(c===0) g.append("text").attr("transform",`translate(5.3,${(T+B)/2}) rotate(-90)`)
    .attr("text-anchor","middle").style("font-size","6px").style("stroke","#000").style("stroke-width","0.15").text("Number of genes");
});
svg.selectAll("text.sp").data(species).join("text").attr("class","sp")
  .attr("x",(d,i)=>speciesX[i]).attr("y",428).attr("text-anchor","middle")
  .style("font-style","italic").style("font-size","13.3px").text(d=>d);
</script>
</body></html>
